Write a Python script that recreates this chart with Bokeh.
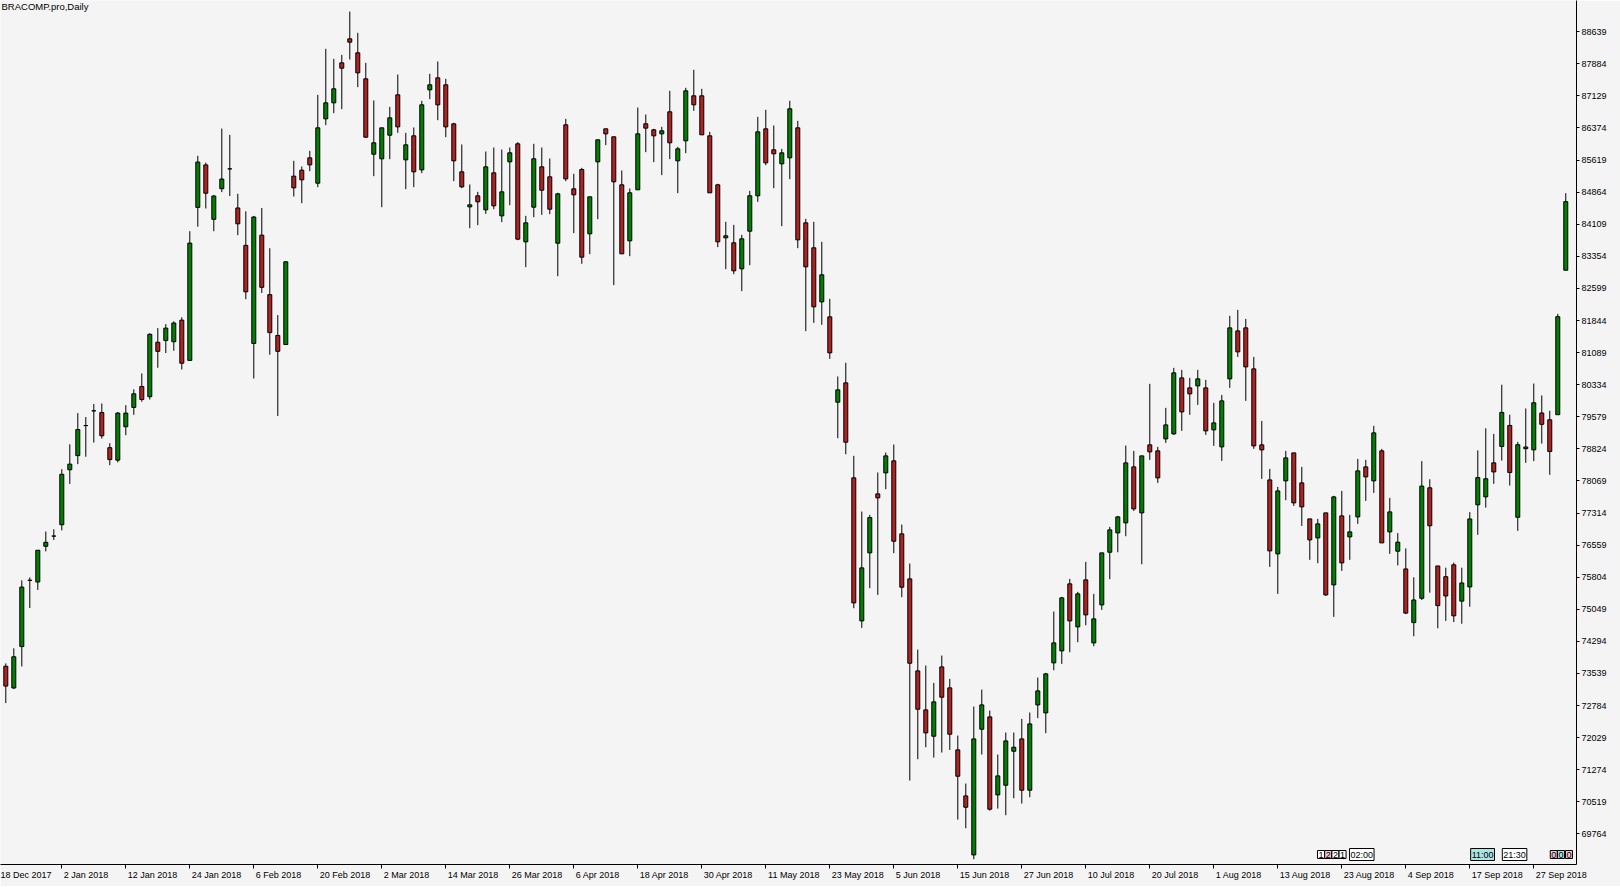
from bokeh.plotting import figure
from bokeh.models import Range1d, FixedTicker, Label, LinearAxis
from bokeh.embed import file_html
from bokeh.resources import INLINE

# ---------------- data (BRACOMP.pro, Daily) ----------------
opens = [73709, 73199, 74172, 75732, 75692, 76532, 76772, 77039, 78332, 78665,
         79372, 79719, 79679, 78852, 78559, 79345, 79799, 80292, 80052, 81332,
         81372, 81345, 81852, 80905, 84505, 85505, 84225, 84945, 85412, 84492,
         83612, 81305, 83852, 82452, 81492, 81279, 85240, 85381, 85671, 85075,
         86589, 86965, 87906, 88471, 88142, 87530, 85757, 85648, 86204, 87153,
         85624, 86189, 85389, 87271, 87553, 87389, 86471, 85342, 84518, 84777,
         84448, 85318, 84306, 85577, 86001, 83695, 84510, 85459, 85224, 83663,
         86448, 84942, 85397, 83883, 85577, 86354, 86166, 85036, 83719, 84919,
         86472, 86330, 86236, 86754, 85601, 86072, 87130, 87130, 86189, 85036,
         83789, 83672, 83060, 83946, 84778, 86354, 85860, 85530, 85672, 86377,
         84142, 83554, 82283, 81930, 79922, 80377, 78142, 74777, 76377, 77765,
         78259, 78542, 76824, 75765, 73600, 72683, 72063, 73694, 73201, 71742,
         70659, 69271, 72228, 72518, 70683, 70910, 71710, 72000, 70793, 72800,
         72612, 73789, 74071, 75648, 74636, 75742, 74259, 75153, 76392, 76847,
         77083, 78400, 77318, 78918, 78777, 79059, 79177, 80494, 80259, 80306,
         80259, 79271, 78871, 80471, 81600, 81671, 80706, 78918, 78094, 76353,
         78071, 78729, 78024, 77176, 76729, 77318, 75624, 77247, 76753, 77224,
         78400, 78071, 78777, 76871, 76416, 75999, 74736, 75309, 77908, 76069,
         75816, 76096, 75242, 75576, 77508, 77695, 78495, 78881, 79375, 77215,
         78868, 78801, 79668, 79508, 79628, 83027]
highs = [73776, 74132, 75732, 75799, 76439, 76879, 76932, 78345, 78932, 79665,
         79572, 79879, 79892, 78959, 79692, 79852, 80225, 80599, 81545, 81665,
         81759, 81825, 81919, 83945, 85719, 85559, 84799, 86359, 86212, 84825,
         84412, 84305, 84492, 83545, 81972, 83239, 85601, 85467, 85836, 87153,
         88236, 88000, 88095, 89114, 88612, 87906, 87020, 86377, 86871, 87632,
         86259, 86385, 87012, 87648, 87938, 87530, 86495, 85985, 85044, 84871,
         85820, 85914, 85867, 85914, 86040, 84306, 86001, 85914, 85656, 84848,
         86589, 85295, 85436, 84754, 86095, 86354, 86166, 85374, 84950, 86856,
         86691, 86354, 86401, 87248, 85930, 87319, 87742, 87295, 86283, 85060,
         84166, 84095, 83860, 84895, 86636, 86801, 86432, 85883, 87013, 86542,
         84236, 84166, 83695, 82354, 80526, 80850, 78659, 77349, 77271, 78267,
         78738, 78926, 77043, 76126, 74102, 73726, 73318, 73961, 73412, 72079,
         70950, 72761, 73161, 72667, 71632, 72149, 72149, 72471, 72620, 73444,
         73554, 74997, 75342, 75765, 75459, 76165, 75412, 76377, 76988, 77247,
         78902, 78777, 78659, 80353, 78871, 79788, 80729, 80682, 80494, 80682,
         80447, 79906, 80094, 81953, 82094, 81882, 80988, 79482, 78353, 77929,
         78777, 78729, 78400, 77176, 77176, 77318, 77718, 77835, 77271, 78588,
         78565, 79365, 78824, 77671, 76842, 76482, 75802, 78535, 78108, 76069,
         76029, 76149, 76029, 77335, 78788, 79308, 79175, 80334, 79628, 78988,
         79774, 80361, 80081, 79721, 82001, 84840]
lows = [72843, 73172, 73705, 75079, 75505, 76412, 76679, 76905, 77999, 78465,
        78639, 78972, 79065, 78439, 78505, 79145, 79625, 79932, 79985, 80732,
        81079, 81132, 80692, 80905, 84052, 84479, 83945, 84865, 84772, 83852,
        82345, 80479, 82492, 81039, 79599, 81279, 84761, 84604, 85357, 84981,
        86440, 86722, 86816, 87985, 87334, 86142, 85240, 84510, 85640, 86259,
        84934, 84981, 85310, 87052, 86557, 86157, 85122, 84957, 84016, 84087,
        84353, 84463, 84157, 84557, 83734, 83099, 84275, 84330, 84346, 82887,
        85122, 83899, 83178, 83405, 84228, 85970, 82676, 83413, 83358, 84919,
        85805, 85570, 85264, 85640, 84840, 85781, 86777, 86213, 84848, 83570,
        83052, 82934, 82534, 83146, 84636, 85499, 84958, 84064, 85170, 83546,
        81593, 81789, 81742, 80942, 79075, 78698, 75075, 74612, 75546, 75389,
        77875, 76369, 75334, 71020, 71522, 71804, 71561, 71679, 71742, 70102,
        69898, 69169, 71632, 70314, 70361, 70204, 70604, 70479, 70628, 72487,
        72134, 73616, 73765, 74040, 74275, 74675, 74181, 75036, 75757, 76392,
        76769, 77365, 76110, 78565, 78024, 78965, 79153, 79247, 79624, 79859,
        79153, 78894, 78541, 80259, 80988, 79953, 78824, 78118, 76047, 75412,
        77616, 77482, 77012, 76212, 76134, 75365, 74871, 75953, 76212, 77059,
        77600, 77788, 76612, 76353, 76082, 74936, 74416, 75269, 75442, 74603,
        74776, 74749, 74709, 75109, 76802, 77442, 78002, 78548, 77961, 76895,
        78495, 78535, 78948, 78215, 79628, 83027]
closes = [73243, 73932, 75572, 75732, 76439, 76625, 76772, 78225, 78465, 79279,
          79372, 79719, 79132, 78572, 79665, 79665, 80119, 79985, 81519, 81119,
          81665, 81785, 80839, 83665, 85572, 84839, 84772, 85172, 85412, 84119,
          82519, 84279, 82625, 81559, 81119, 83225, 84965, 85154, 85506, 86377,
          86965, 87295, 87781, 88393, 87671, 86157, 86024, 86377, 86612, 86400,
          85977, 85342, 86918, 87389, 86918, 86400, 85601, 84989, 84565, 84636,
          85459, 84542, 84871, 85789, 83758, 84142, 85648, 84910, 84463, 84824,
          85177, 84801, 83334, 84754, 86095, 86236, 85107, 83413, 84848, 86236,
          86370, 86189, 86307, 86025, 85883, 87248, 86919, 86213, 84848, 83695,
          83836, 83013, 83766, 84778, 86283, 85554, 85766, 85789, 86825, 83742,
          83107, 82166, 82919, 81083, 80212, 78981, 75200, 76024, 77208, 77671,
          78659, 76651, 75569, 73781, 72698, 72142, 72871, 72981, 72110, 71122,
          70393, 72000, 72800, 70346, 71130, 71953, 71804, 70793, 72353, 73130,
          73530, 74259, 75318, 74777, 75412, 74918, 74824, 76377, 76918, 77224,
          78494, 77412, 78659, 78753, 78141, 79388, 80612, 79694, 80118, 80471,
          79247, 79435, 79953, 81671, 81106, 80753, 78894, 78800, 76424, 77835,
          78612, 77553, 77459, 76682, 77059, 75388, 77694, 76141, 76871, 78306,
          78165, 79200, 76612, 77341, 76629, 74960, 75269, 77948, 77015, 75136,
          75363, 74896, 75669, 77175, 78148, 78121, 78282, 79681, 78268, 78921,
          78828, 79908, 79401, 78761, 81934, 84640]

ytick_values = [88639, 87884, 87129, 86374, 85619, 84864, 84109, 83354, 82599,
                81844, 81089, 80334, 79579, 78824, 78069, 77314, 76559, 75804,
                75049, 74294, 73539, 72784, 72029, 71274, 70519, 69764]
xtick_bars = [-1, 7, 15, 23, 31, 39, 47, 55, 63, 71, 79, 87, 95, 103, 111,
              119, 127, 135, 143, 151, 159, 167, 175, 183, 191]
xtick_labels = ["18 Dec 2017", "2 Jan 2018", "12 Jan 2018", "24 Jan 2018",
                "6 Feb 2018", "20 Feb 2018", "2 Mar 2018", "14 Mar 2018",
                "26 Mar 2018", "6 Apr 2018", "18 Apr 2018", "30 Apr 2018",
                "11 May 2018", "23 May 2018", "5 Jun 2018", "15 Jun 2018",
                "27 Jun 2018", "10 Jul 2018", "20 Jul 2018", "1 Aug 2018",
                "13 Aug 2018", "23 Aug 2018", "4 Sep 2018", "17 Sep 2018",
                "27 Sep 2018"]

# small session marker boxes at the bottom of the chart
marker_texts = ["1", "2", "2", "1", "02:00", "11:00", "21:30", "0", "0", "0"]
marker_bars = [164.4, 165.3, 166.2, 167.1, 169.5, 184.6, 188.6, 193.5, 194.4, 195.4]
marker_fills = ["white", "#f6c4cc", "white", "white", "white", "#a8e6e6",
                "white", "#f6c4cc", "#a8e6e6", "#f6c4cc"]

title_text = "BRACOMP.pro,Daily"

# ---------------- layout ----------------
BG = "#f4f4f4"
FONT = "Liberation Sans"
FS = 9                      # label font size, px
UPP = 755 / 32.09           # price units per pixel
FRAME_W, FRAME_H = 1576, 864
Y_TOP = 89373
Y_BOT = Y_TOP - FRAME_H * UPP
X_START, X_END = -0.6625, 196.34
PX_PER_BAR = FRAME_W / (X_END - X_START)

# approximate Liberation Sans advance widths (em) to left-align date labels
_W = {" ": 0.278, "D": 0.722, "J": 0.5, "F": 0.611, "M": 0.833, "A": 0.667,
      "S": 0.667, "a": 0.556, "b": 0.556, "c": 0.5, "e": 0.556, "g": 0.556,
      "l": 0.222, "n": 0.556, "p": 0.556, "r": 0.333, "u": 0.556, "y": 0.5}


def text_px(s):
    return sum(_W.get(ch, 0.556) for ch in s) * FS


n = len(opens)
idx = list(range(n))
body_top = [max(o, c) for o, c in zip(opens, closes)]
body_bot = [min(o, c) for o, c in zip(opens, closes)]
body_col = ["#008000" if c > o else ("#b22222" if c < o else "black")
            for o, c in zip(opens, closes)]

p = figure(frame_width=FRAME_W, frame_height=FRAME_H, output_backend="svg",
           toolbar_location=None, x_range=Range1d(X_START, X_END),
           y_range=Range1d(Y_BOT, Y_TOP), y_axis_location="right",
           min_border_left=0, min_border_top=0, min_border_right=44,
           min_border_bottom=22)
p.background_fill_color = BG
p.border_fill_color = BG
p.outline_line_color = None
p.xgrid.visible = False
p.ygrid.visible = False

# wicks and bodies
p.segment(x0=idx, y0=lows, x1=idx, y1=highs, line_color="black", line_width=1)
p.vbar(x=idx, width=0.5, top=body_top, bottom=body_bot, fill_color=body_col,
       line_color="black", line_width=1)

# right price axis
ya = p.yaxis[0]
ya.ticker = FixedTicker(ticks=ytick_values)
ya.major_label_overrides = {v: str(v) for v in ytick_values}
ya.major_label_text_font = FONT
ya.major_label_text_font_size = f"{FS}px"
ya.major_label_text_color = "black"
ya.major_tick_out = 3
ya.major_tick_in = 0
ya.minor_tick_out = 0
ya.minor_tick_in = 0
ya.major_label_standoff = 2
ya.axis_line_color = "black"
ya.major_tick_line_color = "black"

# bottom time axis: line + tick marks at the bars
xa = p.xaxis[0]
xa.ticker = FixedTicker(ticks=xtick_bars)
xa.major_label_overrides = {b: "" for b in xtick_bars}
xa.major_label_text_font_size = "0px"
xa.major_label_standoff = 0
xa.major_tick_out = 4
xa.major_tick_in = 0
xa.minor_tick_out = 0
xa.minor_tick_in = 0
xa.axis_line_color = "black"
xa.major_tick_line_color = "black"

# second axis carrying the date texts, each starting just right of its tick
label_pos = [round(b + (text_px(t) / 2 + 2) / PX_PER_BAR, 3)
             for b, t in zip(xtick_bars, xtick_labels)]
la = LinearAxis(ticker=FixedTicker(ticks=label_pos),
                major_label_overrides={x: t for x, t in zip(label_pos, xtick_labels)},
                major_label_text_font=FONT, major_label_text_font_size=f"{FS}px",
                major_label_text_color="black", major_label_standoff=1,
                major_tick_out=0, major_tick_in=0, minor_tick_out=0,
                minor_tick_in=0, axis_line_color=None, major_tick_line_color=None)
p.add_layout(la, "below")

# session marker boxes
for b, t, f in zip(marker_bars, marker_texts, marker_fills):
    p.add_layout(Label(x=b, y=Y_BOT + 10 * UPP, x_units="data", y_units="data",
                       text=t, text_align="center", text_baseline="middle",
                       text_font=FONT, text_font_size=f"{FS}px", text_color="black",
                       background_fill_color=f, border_line_color="black",
                       border_line_width=1, padding=1))

# chart caption
p.add_layout(Label(x=X_START, y=Y_TOP, x_units="data", y_units="data",
                   text=title_text, x_offset=1, text_align="left",
                   text_baseline="top", text_font=FONT, text_font_size="9.5px",
                   text_color="black"))

open("out.html", "w").write(file_html(p, INLINE))
